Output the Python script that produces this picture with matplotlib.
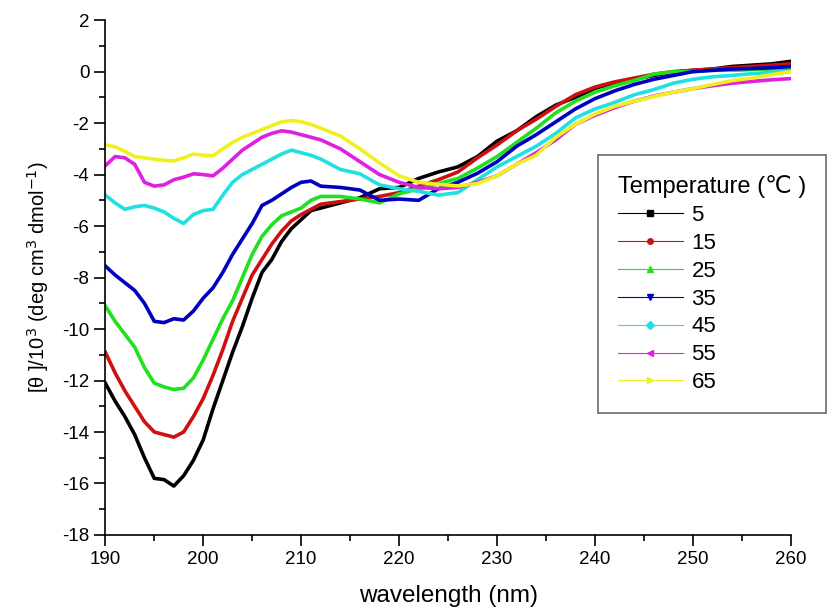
import matplotlib
matplotlib.use("Agg")
import matplotlib.pyplot as plt
from matplotlib.lines import Line2D
from matplotlib.ticker import MultipleLocator

plt.rcParams['font.family'] = ['Liberation Sans', 'DejaVu Sans']
plt.rcParams['axes.unicode_minus'] = False

# wavelength grid (nm)
wavelength = list(range(190, 213)) + list(range(214, 261, 2))

# ellipticity [theta]/10^3 for each temperature
t5 = [-12.1, -12.8, -13.4, -14.1, -15.0, -15.8, -15.85, -16.1, -15.7, -15.1, -14.3, -13.1,
      -12.0, -10.9, -9.9, -8.8, -7.8, -7.3, -6.6, -6.1, -5.75, -5.4, -5.3,
      -5.1, -4.9, -4.55, -4.5, -4.15, -3.9, -3.7, -3.3, -2.7, -2.3, -1.75, -1.3, -1.0,
      -0.65, -0.45, -0.3, -0.15, -0.02, 0.05, 0.1, 0.2, 0.25, 0.3, 0.4]
t15 = [-10.9, -11.7, -12.4, -13.0, -13.6, -14.0, -14.1, -14.2, -14.0, -13.4, -12.7, -11.8,
       -10.8, -9.7, -8.8, -7.9, -7.3, -6.7, -6.2, -5.8, -5.55, -5.35, -5.15,
       -5.05, -4.95, -4.85, -4.7, -4.45, -4.2, -3.9, -3.35, -2.85, -2.3, -1.85, -1.35, -0.9,
       -0.6, -0.4, -0.25, -0.1, 0.0, 0.05, 0.1, 0.15, 0.2, 0.25, 0.3]
t25 = [-9.1, -9.7, -10.2, -10.7, -11.5, -12.1, -12.25, -12.35, -12.3, -11.9, -11.2, -10.4,
       -9.6, -8.9, -8.0, -7.1, -6.4, -5.95, -5.6, -5.45, -5.3, -5.0, -4.85,
       -4.85, -4.95, -5.1, -4.75, -4.55, -4.35, -4.15, -3.75, -3.3, -2.75, -2.2, -1.6, -1.15,
       -0.8, -0.55, -0.35, -0.1, 0.0, 0.0, 0.05, 0.05, 0.08, 0.1, 0.12]
t35 = [-7.55, -7.9, -8.2, -8.5, -9.0, -9.7, -9.75, -9.6, -9.65, -9.3, -8.8, -8.4,
       -7.8, -7.1, -6.5, -5.9, -5.2, -5.0, -4.75, -4.5, -4.3, -4.25, -4.45,
       -4.5, -4.6, -5.0, -4.95, -5.0, -4.55, -4.3, -3.95, -3.5, -2.9, -2.45, -1.95, -1.45,
       -1.05, -0.75, -0.5, -0.3, -0.15, 0.0, 0.05, 0.1, 0.12, 0.15, 0.2]
t45 = [-4.8, -5.1, -5.35, -5.25, -5.2, -5.3, -5.45, -5.7, -5.9, -5.55, -5.4, -5.35,
       -4.8, -4.3, -4.0, -3.8, -3.6, -3.4, -3.2, -3.05, -3.15, -3.25, -3.4,
       -3.8, -3.97, -4.4, -4.55, -4.65, -4.8, -4.7, -4.2, -3.7, -3.3, -2.9, -2.4, -1.8,
       -1.45, -1.2, -0.9, -0.7, -0.45, -0.3, -0.2, -0.15, -0.08, -0.03, 0.0]
t55 = [-3.66, -3.3, -3.35, -3.6, -4.3, -4.45, -4.4, -4.2, -4.1, -3.97, -4.0, -4.05,
       -3.75, -3.4, -3.05, -2.8, -2.55, -2.4, -2.3, -2.35, -2.45, -2.55, -2.65,
       -3.0, -3.5, -4.0, -4.3, -4.5, -4.55, -4.5, -4.3, -4.05, -3.6, -3.15, -2.65, -2.05,
       -1.7, -1.4, -1.15, -0.95, -0.8, -0.66, -0.55, -0.45, -0.38, -0.32, -0.27]
t65 = [-2.85, -2.92, -3.1, -3.3, -3.35, -3.4, -3.45, -3.47, -3.35, -3.2, -3.25, -3.27,
       -3.0, -2.75, -2.55, -2.4, -2.25, -2.1, -1.95, -1.9, -1.95, -2.05, -2.2,
       -2.5, -3.0, -3.55, -4.05, -4.3, -4.38, -4.44, -4.35, -4.05, -3.6, -3.25, -2.55, -2.05,
       -1.65, -1.35, -1.15, -0.97, -0.8, -0.66, -0.5, -0.35, -0.25, -0.12, 0.0]

labels = ['5', '15', '25', '35', '45', '55', '65']
series = [t5, t15, t25, t35, t45, t55, t65]
colors = ['#000000', '#d01010', '#20e020', '#0000c0', '#20e0e0', '#e020e0', '#f0f020']
markers = ['s', 'o', '^', 'v', 'D', '<', '>']

fig = plt.figure(figsize=(8.29, 6.10), dpi=100)
ax = fig.add_axes([0.127, 0.123, 0.827, 0.844])

handles = []
for y, c, m, lab in zip(series, colors, markers, labels):
    ax.plot(wavelength, y, color=c, lw=2.6)
    handles.append(Line2D([], [], color=c, lw=0.8, marker=m, markersize=4, label=lab))

ax.set_xlim(190, 260)
ax.set_ylim(-18, 2)
ax.xaxis.set_major_locator(MultipleLocator(10))
ax.xaxis.set_minor_locator(MultipleLocator(5))
ax.yaxis.set_major_locator(MultipleLocator(2))
ax.yaxis.set_minor_locator(MultipleLocator(1))
ax.tick_params(which='major', direction='out', length=8, width=1.2, labelsize=13.5)
ax.tick_params(which='minor', direction='out', length=4, width=1.2)
for s in ['top', 'right']:
    ax.spines[s].set_visible(False)
for s in ['left', 'bottom']:
    ax.spines[s].set_linewidth(1.2)

ax.set_xlabel('wavelength (nm)', fontsize=17.5, labelpad=12)
ax.set_ylabel(r'[θ ]/10$^{3}$ (deg cm$^{3}$ dmol$^{-1}$)', fontsize=14.5, labelpad=8)

leg = ax.legend(handles=handles, title='Temperature (℃ )', loc='upper left',
                bbox_to_anchor=(0.719, 0.738), borderaxespad=0, fontsize=16,
                title_fontsize=17, handlelength=2.9, handletextpad=0.4,
                labelspacing=0.31, fancybox=False, borderpad=0.9, alignment='left')
leg.get_frame().set_edgecolor('#444444')
leg.get_frame().set_linewidth(1.2)

fig.savefig('out.png', dpi=100)
